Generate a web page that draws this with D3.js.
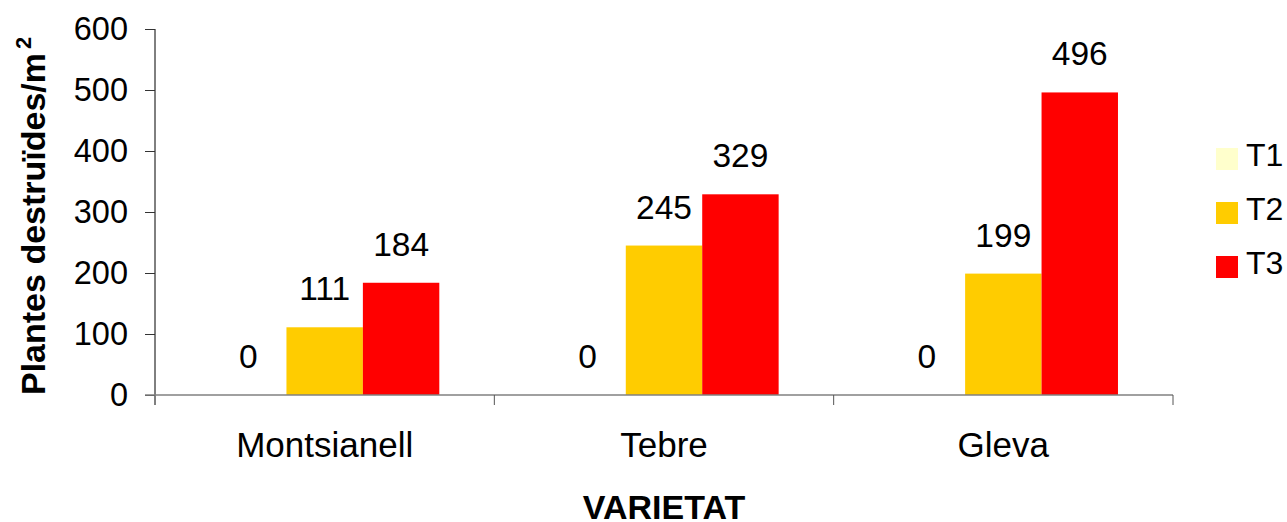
<!DOCTYPE html>
<html>
<head>
<meta charset="utf-8">
<script src="https://cdn.jsdelivr.net/npm/d3@7"></script>
<style>
  body { margin: 0; background: #fff; }
  text { font-family: "Liberation Sans", Arial, sans-serif; fill: #000; }
</style>
</head>
<body>
<div id="chart"></div>
<script>
// data
var varietats = ["Montsianell", "Tebre", "Gleva"];
var series = ["T1", "T2", "T3"];
var t1 = [0, 0, 0];
var t2 = [111, 245, 199];
var t3 = [184, 329, 496];
var yTicks = [0, 100, 200, 300, 400, 500, 600];
var colors = ["#FFFFCC", "#FFCC00", "#FF0000"];

var width = 1287, height = 522;
var margin = {top: 29, left: 155, right: 114, bottom: 127};
var plotW = width - margin.left - margin.right;
var plotH = height - margin.top - margin.bottom;

var rows = varietats.map(function(v, i) {
    return {cat: v, vals: [t1[i], t2[i], t3[i]]};
});

var svg = d3.select("#chart").append("svg")
    .attr("width", width)
    .attr("height", height);

var g = svg.append("g")
    .attr("transform", "translate(" + margin.left + "," + margin.top + ")");

var x0 = d3.scaleBand().domain(varietats).range([0, plotW]).padding(0);
var x1 = d3.scaleBand().domain(series).range([0, x0.bandwidth()])
    .paddingInner(0).paddingOuter(0.72);
var y = d3.scaleLinear().domain([0, 600]).range([plotH, 0]);

//bars
var groups = g.selectAll(".grp")
    .data(rows)
    .enter()
    .append("g")
    .attr("class", "grp")
    .attr("transform", d => "translate(" + x0(d.cat) + ",0)");

groups.selectAll("rect")
    .data(d => d.vals.map((v, i) => ({s: series[i], v: v, c: colors[i]})))
    .enter()
    .append("rect")
    .attr("x", d => x1(d.s))
    .attr("y", d => y(d.v))
    .attr("width", x1.bandwidth())
    .attr("height", d => plotH - y(d.v))
    .attr("fill", d => d.c);

//value labels above bars
groups.selectAll("text.val")
    .data(d => d.vals.map((v, i) => ({s: series[i], v: v})))
    .enter()
    .append("text")
    .attr("class", "val")
    .attr("x", d => x1(d.s) + x1.bandwidth() / 2)
    .attr("y", d => y(d.v) - 27)
    .attr("text-anchor", "middle")
    .attr("font-size", 33.5)
    .text(d => d.v);

//y axis
var yAxis = g.append("g")
    .call(d3.axisLeft(y).tickValues(yTicks).tickSize(10).tickPadding(17));
yAxis.select(".domain").attr("stroke", "#000").attr("d", "M0,0V" + (plotH + 10));
yAxis.selectAll(".tick line").attr("stroke", "#333");
yAxis.selectAll(".tick text")
    .attr("font-size", 32.5)
    .attr("font-family", "'Liberation Sans', Arial, sans-serif")
    .attr("fill", "#000");

//x axis
var xAxis = g.append("g")
    .attr("transform", "translate(0," + plotH + ")")
    .call(d3.axisBottom(x0).tickSize(0).tickPadding(0));
xAxis.select(".domain").attr("stroke", "#808080").attr("stroke-width", 1.5)
    .attr("d", "M-10,0H" + plotW);
xAxis.selectAll(".tick text")
    .attr("font-size", 35)
    .attr("font-family", "'Liberation Sans', Arial, sans-serif")
    .attr("fill", "#000")
    .attr("y", 62)
    .attr("dy", 0);

//category separator ticks
g.selectAll(".sep")
    .data(varietats.slice(1).concat(["end"]))
    .enter()
    .append("line")
    .attr("class", "sep")
    .attr("x1", (d, i) => x0.step() * (i + 1))
    .attr("x2", (d, i) => x0.step() * (i + 1))
    .attr("y1", plotH)
    .attr("y2", plotH + 10)
    .attr("stroke", "#555");

//axis titles
svg.append("text")
    .attr("x", margin.left + plotW / 2)
    .attr("y", 519)
    .attr("text-anchor", "middle")
    .attr("font-size", 34)
    .attr("font-weight", "bold")
    .text("VARIETAT");

var yt = svg.append("text")
    .attr("transform", "translate(45," + (margin.top + plotH) + ") rotate(-90)")
    .attr("text-anchor", "start")
    .attr("font-size", 34)
    .attr("font-weight", "bold");
yt.append("tspan").text("Plantes destruïdes/m");
yt.append("tspan").attr("font-size", 22).attr("dy", -14).attr("dx", 4).text("2");

//legend
var legend = svg.append("g").selectAll("g")
    .data(series)
    .enter()
    .append("g")
    .attr("transform", (d, i) => "translate(1216," + (148 + i * 54) + ")");
legend.append("rect")
    .attr("width", 22)
    .attr("height", 22)
    .attr("fill", (d, i) => colors[i]);
legend.append("text")
    .attr("x", 30)
    .attr("y", 18)
    .attr("font-size", 32)
    .text(d => d);
</script>
</body>
</html>
